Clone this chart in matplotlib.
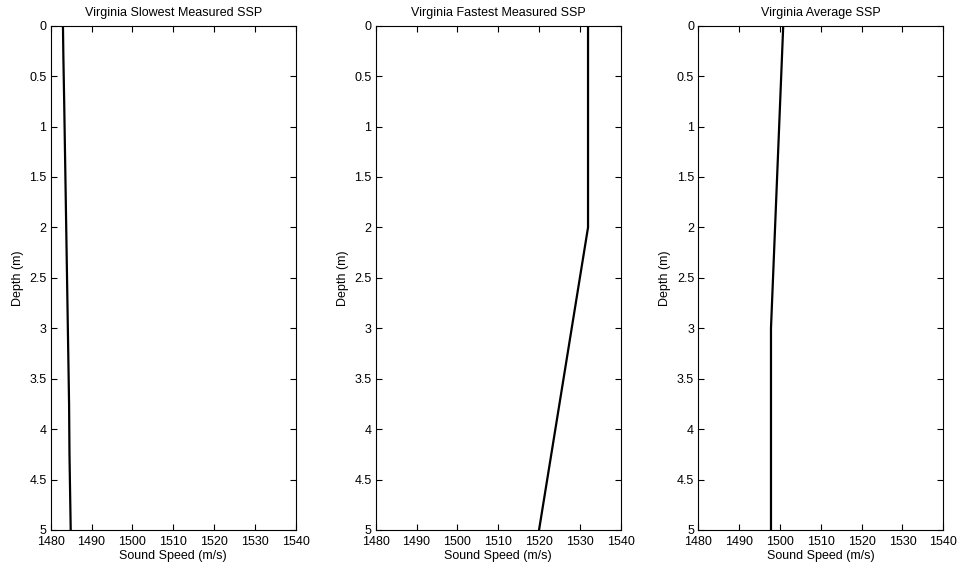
import numpy as np
import matplotlib
matplotlib.use("Agg")
import matplotlib.pyplot as plt

plt.rcParams['font.family'] = ['Liberation Sans', 'DejaVu Sans']
plt.rcParams['font.size'] = 9

# sound speed profiles (depth in m, speed in m/s)
slow_depth = [0.0, 0.3, 0.75, 1.25, 1.75, 2.25, 2.75, 3.25, 3.75, 4.25, 4.75, 5.0]
slow_speed = [1483.0, 1483.1, 1483.3, 1483.5, 1483.7, 1483.9, 1484.1, 1484.3, 1484.5, 1484.6, 1484.8, 1484.9]

fast_depth = [0.0, 2.0, 5.0]
fast_speed = [1532.0, 1532.0, 1520.0]

avg_depth = [0.0, 3.0, 5.0]
avg_speed = [1500.8, 1497.8, 1497.8]

titles = ["Virginia Slowest Measured SSP",
          "Virginia Fastest Measured SSP",
          "Virginia Average SSP"]
profiles = [(slow_speed, slow_depth), (fast_speed, fast_depth), (avg_speed, avg_depth)]

xticks = [1480, 1490, 1500, 1510, 1520, 1530, 1540]
yticks = [0, 0.5, 1, 1.5, 2, 2.5, 3, 3.5, 4, 4.5, 5]
ylabels = ["0", "0.5", "1", "1.5", "2", "2.5", "3", "3.5", "4", "4.5", "5"]

fig = plt.figure(figsize=(9.58, 5.73), dpi=100)
lefts = [50.7, 375.7, 698.3]
w = 245.0
bottom = 1 - 530 / 573
height = (530 - 25.7) / 573

for left, title, (spd, dep) in zip(lefts, titles, profiles):
    ax = fig.add_axes([left / 958, bottom, w / 958, height])
    ax.plot(spd, dep, color="black", lw=1.6)
    ax.set_xlim(1480, 1540)
    ax.set_ylim(5, 0)
    ax.set_xticks(xticks)
    ax.set_yticks(yticks)
    ax.set_yticklabels(ylabels)
    ax.tick_params(direction="in", top=True, right=True, length=4, width=0.8)
    ax.tick_params(axis="x", pad=4)
    ax.tick_params(axis="y", pad=3)
    ax.set_title(title, fontsize=9, pad=7)
    ax.set_xlabel("Sound Speed (m/s)", labelpad=2)
    ax.set_ylabel("Depth (m)", labelpad=4)
    for s in ax.spines.values():
        s.set_linewidth(0.8)

fig.savefig("out.png", dpi=100)
